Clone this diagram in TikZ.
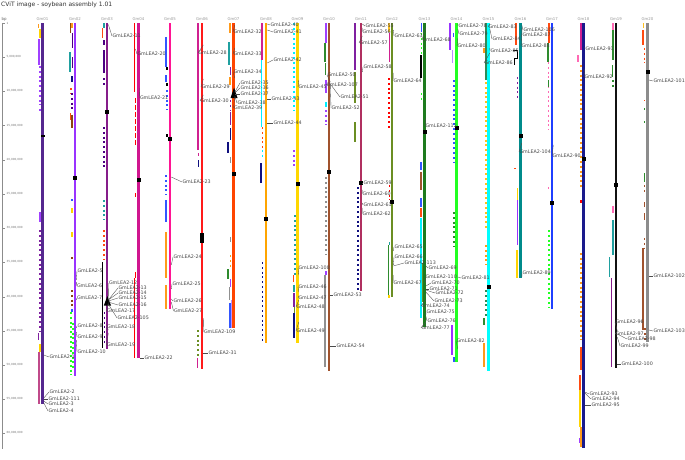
\documentclass[tikz,border=0pt]{standalone}
\usepackage{fontspec}
\setmainfont{DejaVu Sans}
\definecolor{c01}{HTML}{55288F}\definecolor{c02}{HTML}{9933FF}\definecolor{c03}{HTML}{861D8A}
\definecolor{c04}{HTML}{D0158F}\definecolor{c05}{HTML}{FF1493}\definecolor{c06}{HTML}{FF1A1A}
\definecolor{c07}{HTML}{FF4500}\definecolor{c08}{HTML}{FFA500}\definecolor{c09}{HTML}{FFD700}
\definecolor{c10}{HTML}{A0522D}\definecolor{c11}{HTML}{B03060}\definecolor{c12}{HTML}{6B8E23}
\definecolor{c13}{HTML}{1E7B1E}\definecolor{c14}{HTML}{22FF22}\definecolor{c15}{HTML}{00FFFF}
\definecolor{c16}{HTML}{008B8B}\definecolor{c17}{HTML}{1F3FFF}\definecolor{c18}{HTML}{1A1A8C}
\definecolor{c19}{HTML}{111111}\definecolor{c20}{HTML}{8C8C8C}
\definecolor{fviol}{HTML}{A040FF}\definecolor{fpurp}{HTML}{8020A0}\definecolor{fora}{HTML}{FF9A1A}
\definecolor{fyel}{HTML}{FFD400}\definecolor{frosy}{HTML}{C04A8A}\definecolor{fbrown}{HTML}{8B4513}
\definecolor{findigo}{HTML}{4B0082}\definecolor{fteal}{HTML}{20A0A0}\definecolor{fnavy}{HTML}{10107F}
\definecolor{fored}{HTML}{FF4A10}\definecolor{fblue}{HTML}{3355FF}\definecolor{fmv}{HTML}{D02090}
\definecolor{folive}{HTML}{6B8E23}\definecolor{fgreen}{HTML}{2E8B2E}\definecolor{flime}{HTML}{22FF22}
\definecolor{fcyan}{HTML}{00F0FF}\definecolor{fgray}{HTML}{909090}\definecolor{flav}{HTML}{B890FF}
\definecolor{fpink}{HTML}{FF69B4}\definecolor{fsienna}{HTML}{A0522D}\definecolor{fgold}{HTML}{FFC020}
\definecolor{fsea}{HTML}{2E8B57}
\newcommand\fs[4]{\fill[#4] (#1-0.85,#2) rectangle (#1+0.85,#3);}
\newcommand\fd[4]{\draw[#4,line width=1.7pt,dash pattern=on 2pt off 2.8pt] (#1,#2) -- (#1,#3);}
\newcommand\cen[2]{\fill[black] (#1-2,#2-2.2) rectangle (#1+2,#2+2.2);}
\newcommand\chrom[4]{% name, x, bottom, colour
  \node[chl] (#1) at (#2,19) {#1};
  \fill[#4] (#2-1.25,23.5) rectangle (#2+1.25,#3);}
\newcommand\glab[5]{%
  \coordinate (p#1) at (#2,#3);
  \node[lab] (l#1) at (#4,#5) {GmLEA2-#1};
  \draw[lead] (p#1) -- (l#1.west);}
\newcommand\tick[3]{\coordinate (t#1) at (2.7,#2);
  \draw[axis] (t#1) -- ++(2.6,0);
  \node[tkl] (tl#1) at (6.5,#2) {#3};}
\tikzset{
  lab/.style={font=\fontsize{4.8}{5}\selectfont,text=black!72,inner sep=0.3pt,anchor=west},
  lead/.style={draw=black!70,line width=0.35pt},
  chl/.style={font=\fontsize{3.9}{4}\selectfont,text=black!40,inner sep=0pt},
  tkl/.style={font=\fontsize{2.8}{3}\selectfont,text=black!55,inner sep=0pt,anchor=west},
  axis/.style={draw=black!45,line width=0.5pt}
}
\begin{document}
\begin{tikzpicture}[x=1pt,y=-1pt]
\useasboundingbox[fill=white] (0,0) rectangle (685,460);
\node[font=\fontsize{6}{7}\selectfont,text=black!80,anchor=west,inner sep=0pt] (title) at (1,4.5) {CViT image - soybean assembly 1.01};
\node[font=\fontsize{4}{4}\selectfont,text=black!60,anchor=west,inner sep=0pt] (bp) at (1.5,19.5) {bp};
\coordinate (atop) at (2.7,23); \coordinate (abot) at (2.7,449);
\draw[axis] (atop) -- (abot);
\tick{a}{23.5}{1}\tick{b}{57}{5,000,000}\tick{c}{91}{10,000,000}\tick{d}{125.5}{15,000,000}
\tick{e}{160}{20,000,000}\tick{f}{194}{25,000,000}\tick{g}{228}{30,000,000}\tick{h}{262}{35,000,000}
\tick{i}{297}{40,000,000}\tick{j}{331}{45,000,000}\tick{k}{365}{50,000,000}\tick{l}{399}{55,000,000}
\tick{m}{433}{60,000,000}
% ---------------- features -----------------
% Gm01
\fs{38.5}{24}{28}{fora}\fs{40}{29}{38}{fyel}\fs{39}{39}{65}{fviol}\fd{40}{66}{105}{fviol}
\fs{40}{109}{111}{fviol}\fs{40}{212}{222}{fviol}\fd{40}{230}{332}{fpurp}\fs{38.5}{333}{340}{fpurp}
\fs{40}{344}{352}{fyel}\fs{39}{352}{404}{frosy}
% Gm02
\fs{70.5}{23.5}{33}{fbrown}\fs{72}{23.5}{28}{fora}\fs{72.5}{33}{48}{findigo}\fs{70}{52}{72}{fteal}
\fs{72.5}{57}{68}{findigo}\fs{72}{76}{82}{fnavy}\fd{71}{88}{93}{fored}\fd{72}{93}{110}{findigo}
\fs{70.5}{113}{120}{fored}\fs{72}{115}{128}{fbrown}\fs{72}{199}{201}{fblue}\fs{72}{208}{213}{fyel}
\fs{72}{232}{237}{fyel}\fs{72}{257}{259}{fbrown}\fd{72}{290}{308}{fbrown}\fs{72}{309}{312}{fblue}
\fd{71}{312}{375}{flime}\fd{73}{323}{370}{flime}
% Gm03
\fs{104}{23.5}{28}{fteal}\fs{102.5}{28}{38}{fored}\fs{104}{40}{45}{findigo}\fs{104}{50}{73}{findigo}
\fd{104}{78}{87}{findigo}\fd{104}{127}{170}{findigo}\fd{104}{200}{220}{fteal}\fd{104}{230}{260}{fored}
\fill[black] (101.6,262) rectangle (102.6,348);\fd{104.5}{312}{345}{findigo}
% Gm04
\fs{134.5}{23.5}{92}{red}\draw[red,line width=1.7pt,dash pattern=on 5pt off 2pt] (135.5,98) -- (135.5,145);
\fs{135.5}{193}{197}{red}\fs{135.5}{272}{278}{red}\fs{134.5}{278}{358}{red}
% Gm05
\fs{166}{37}{67}{fblue}\fs{167}{67}{70}{black}\fs{166}{75}{82}{fblue}\fs{167}{83}{86}{black}
\fd{167}{90}{110}{fblue}\fs{167}{134}{137}{black}\fd{166}{175}{195}{fblue}\fs{166}{200}{222}{fblue}
\fs{166}{232}{278}{fora}\fs{166}{285}{309}{fora}
% Gm06
\fs{198}{23.5}{150}{fmv}\fs{198.5}{153}{156}{fmv}\fs{198.5}{160}{167}{fnavy}
\fd{198}{330}{358}{folive}\fs{197.5}{358}{368}{fmv}
% Gm07
\fs{230}{23.5}{33}{fora}\fs{229}{42}{65}{fteal}\fs{230.5}{67}{75}{fpurp}\fs{230}{77}{85}{fora}
\fd{230.5}{100}{110}{fpurp}\fs{230.5}{112}{125}{fpurp}\fs{230.5}{128}{140}{fnavy}\fs{228}{142}{153}{fnavy}
\fs{230.5}{157}{163}{fgray}\fs{230.5}{237}{242}{fgray}\fd{230.5}{255}{268}{fora}\fs{228}{269}{279}{fgreen}
\fs{230.5}{279}{287}{fviol}\fs{229.5}{287}{300}{fgray}\fs{231.5}{300}{328}{flav}\fs{230}{303}{328}{fblue}
% Gm08
\fs{262}{23.5}{60}{fmv}\fs{261.5}{60}{127}{fcyan}\fd{262.5}{127}{148}{fored}\fd{262.5}{150}{157}{fcyan}
\fs{261}{163}{183}{fnavy}\fd{262.5}{262}{343}{fnavy}
% Gm09
\fd{294}{23.5}{110}{fcyan}\fd{294}{150}{167}{fviol}\fd{295}{215}{275}{fteal}\fs{293.5}{275}{282}{fored}
\fs{294}{285}{292}{fteal}\fs{294}{293}{307}{fpurp}\fs{294.5}{307}{313}{folive}\fs{294}{313}{338}{fnavy}
% Gm10
\fs{326}{23.5}{43}{fviol}\fs{325}{43}{62}{fgreen}\fs{325.5}{63}{75}{fgreen}\fs{326}{80}{93}{fviol}
\fs{326}{102}{107}{fcyan}\fd{326}{110}{125}{fviol}\fd{326}{177}{255}{fgray}\fs{326}{271}{275}{fviol}
\fill[fgray] (324.4,275) rectangle (325.8,367);
% Gm11
\fs{355}{23.5}{70}{fpurp}\fs{355}{72}{103}{folive}\fs{355}{122}{142}{folive}\fd{358}{187}{290}{fnavy}
% Gm12
\fs{389}{23.5}{32}{fgold}\fs{389.5}{33}{62}{fmv}\fd{389}{78}{130}{red}\fd{389.5}{185}{200}{red}
\fs{389.5}{242}{245}{fteal}\fs{388.5}{245}{295}{fgreen}\fs{389}{295}{298}{fyel}
% Gm13
\fs{421.5}{23.5}{32}{fblue}\fd{421.5}{33}{55}{flime}\fs{421}{55}{78}{black}\fd{421.5}{93}{100}{flime}
\fs{421}{162}{170}{fblue}\fs{421}{172}{190}{fsienna}\fs{421}{198}{207}{fblue}\fs{421}{208}{217}{fored}
\fs{421}{218}{318}{fcyan}\fs{423}{263}{302}{folive}
% Gm14
\fs{450}{23.5}{50}{c02}\fs{453.5}{33}{37}{fblue}\fs{452.5}{50}{63}{flav}\fd{454}{80}{163}{fblue}
\fd{454}{212}{247}{fgreen}\fs{452}{325}{355}{c02}\fs{454}{357}{362}{fblue}
% Gm15
\fs{486}{23.5}{80}{fsea}\fs{484}{48}{53}{fora}\fd{486}{82}{230}{fgold}\fd{486}{245}{265}{fora}
\fd{486}{290}{316}{fsea}\fs{484}{318}{325}{fgreen}\fs{484}{343}{367}{fora}
% Gm16
\fs{516}{23.5}{45}{fored}\draw[black,line width=0.8pt] (513,50)--(517,50)--(517,58)--(514,58)--(514,65);
\fd{517.5}{77}{100}{fpurp}\fs{515}{167.5}{169}{fored}\fs{517.5}{188}{200}{fyel}\fs{517.5}{200}{245}{c02}
\fs{517}{250}{278}{fyel}
% Gm17
\fs{549}{23.5}{43}{fored}\fs{548}{43}{62}{fgreen}\fd{548.5}{62}{130}{fpink}\fs{548.5}{80}{87}{fgreen}
\fs{548.5}{187}{189}{fpink}\fd{549}{230}{308}{flime}
% Gm18
\fs{581}{23.5}{50}{fmv}\fs{578}{55}{62}{fpink}\fd{581}{65}{187}{fora}\fs{581}{200}{203}{red}
\fd{581}{253}{340}{fora}\fs{581}{347}{370}{fored}\fs{580}{375}{390}{fored}\fs{580}{390}{427}{fyel}
\fs{581}{427}{447}{fora}\fs{579.5}{438}{443}{fviol}
% Gm19
\fs{613}{23.5}{30}{fpink}\fs{613}{30}{60}{fgreen}\fs{612.5}{65}{77}{fgreen}\fd{613}{80}{88}{fgreen}
\fs{613}{206}{213}{fpink}\fs{613}{220}{255}{fteal}\fs{609.5}{257}{277}{fteal}\fs{611.5}{278}{367}{c03}
% Gm20
\fs{643.5}{23.5}{28}{fgold}\fs{643}{30}{45}{fored}\fd{644.5}{48}{63}{fored}\fs{644.5}{99.5}{101}{fored}
\fs{644.5}{108}{109.5}{fgreen}\fs{644.5}{121}{123}{fgreen}\fs{644.5}{173}{182}{fgreen}
\fd{644.5}{185}{193}{fsienna}\fs{644.5}{202}{207}{fsienna}\fs{644.5}{213}{220}{fsienna}
\fd{644.5}{238}{248}{fsienna}\fill[fsienna] (642.4,248) rectangle (643.6,330);\fd{645}{328}{340}{fsienna}
% ---------------- chromosomes -----------------
\chrom{Gm01}{42.5}{404}{c01}\chrom{Gm02}{75}{376}{c02}\chrom{Gm03}{107}{349}{c03}
\chrom{Gm04}{138.5}{358}{c04}\chrom{Gm05}{170}{309}{c05}\chrom{Gm06}{202}{369}{c06}
\chrom{Gm07}{233.5}{328}{c07}\chrom{Gm08}{266}{343}{c08}\chrom{Gm09}{297.5}{343}{c09}
\chrom{Gm10}{329}{371}{c10}\chrom{Gm11}{361}{291}{c11}\chrom{Gm12}{392}{297}{c12}
\chrom{Gm13}{424.5}{327}{c13}\chrom{Gm14}{456.5}{362}{c14}\chrom{Gm15}{488.5}{371}{c15}
\chrom{Gm16}{520.5}{278}{c16}\chrom{Gm17}{552}{309}{c17}\chrom{Gm18}{583.5}{448}{c18}
\chrom{Gm19}{616}{368}{c19}\chrom{Gm20}{647.5}{342}{c20}
% centromeres
\fill[black] (41,135.4) rectangle (44.5,137);
\cen{75}{178}\cen{107}{112}\cen{138.5}{180}\cen{170}{139}
\fill[black] (200,233) rectangle (204,243);
\cen{233.5}{174}\cen{266}{219}\cen{297.5}{184}\cen{329}{172}\cen{361}{183}\cen{392}{202}
\cen{424.5}{132}\cen{456.5}{128}\cen{488.5}{287}\cen{520.5}{136}\cen{552}{203}\cen{583.5}{159}
\cen{616}{185}\cen{647.5}{72}
% clusters
\fill[black] (103.8,305.5) -- (111,305.5) -- (107.4,296) -- cycle;
\fill[black] (230.5,98) -- (237.5,98) -- (234,87.5) -- cycle;
% ---------------- labels -----------------
\glab{1}{43.8}{355}{49}{357}\glab{2}{43.8}{398}{49}{392}\glab{111}{43.8}{399}{48}{399}
\glab{3}{43.8}{401}{48}{404}\glab{4}{43.8}{403}{48}{411}
\glab{5}{76.3}{280}{77}{271}\glab{6}{76.3}{282}{76.5}{286}\glab{7}{76.3}{300}{76.5}{298}
\glab{8}{76.3}{328}{77}{326}\glab{9}{76.3}{332}{77}{337}\glab{10}{76.3}{340}{77}{352}
\glab{12}{108.3}{298}{108.5}{283}\glab{13}{108.3}{300}{118}{288}\glab{14}{108.3}{300}{118}{293}
\glab{15}{108.3}{301}{118}{298}\glab{16}{108.3}{302}{118}{305}\glab{17}{108.3}{303}{106.5}{311}
\glab{105}{108.3}{304}{117}{318}\glab{18}{108.3}{330}{106.5}{327}\glab{19}{108.3}{333}{106.5}{345}
\glab{11}{108.3}{24.5}{112}{36}
\glab{20}{135.4}{49}{137}{54}\glab{21}{139.8}{88}{139.5}{98}\glab{22}{139.8}{358}{144}{358}
\glab{23}{171.3}{177}{182}{182}\glab{24}{171.3}{265}{173}{257}\glab{25}{171.3}{289}{172}{284}
\glab{26}{171.3}{299}{173}{301}\glab{27}{171.3}{302}{173.5}{311}
\glab{28}{203.3}{45}{198}{53}\glab{29}{203.3}{79}{201}{87}\glab{30}{203.3}{95}{200}{101}
\glab{109}{203.3}{318}{203.5}{332}\glab{31}{203.3}{353}{208}{353}
\glab{32}{234.8}{25}{233}{32}\glab{33}{234.8}{48}{233}{54}\glab{34}{234.8}{78}{233}{72}
\glab{35}{234.8}{92}{240}{83}\glab{36}{234.8}{93}{240}{88}\glab{37}{234.8}{94}{240}{94}
\glab{38}{234.8}{96}{237}{103}\glab{39}{234.8}{97}{233.5}{108}
\glab{40}{267.3}{24}{270}{25}\glab{41}{267.3}{30}{273}{32}\glab{42}{267.3}{63}{273}{60}
\glab{43}{267.3}{99}{271}{99}\glab{44}{267.3}{123}{273}{123}
\glab{45}{298.8}{80}{298}{87}\glab{108}{298.8}{275}{298}{268}\glab{46}{298.8}{292}{298}{287}
\glab{47}{298.8}{296}{298}{298}\glab{48}{298.8}{300}{296}{307}\glab{49}{298.8}{322}{296}{331}
\glab{50}{330.3}{82}{327}{75}\glab{107}{330.3}{83}{326}{85}\glab{51}{330.3}{84}{340}{97}
\glab{52}{330.3}{85}{331}{108}\glab{53}{330.3}{295}{333}{295}\glab{54}{330.3}{346}{336}{346}
\glab{55}{362.3}{24}{365}{26}\glab{56}{362.3}{28}{362}{32}\glab{57}{362.3}{36}{359}{43}
\glab{58}{362.3}{72}{363}{67}\glab{59}{362.3}{183}{363}{183}\glab{60}{362.3}{190}{362}{194}
\glab{61}{362.3}{203}{363}{205}\glab{62}{362.3}{208}{362}{214}
\glab{63}{393.3}{30}{394}{36}\glab{64}{393.3}{73}{393}{81}\glab{65}{393.3}{251}{394}{247}
\glab{66}{393.3}{265}{394}{257}\glab{113}{393.3}{266}{404}{263}\glab{67}{393.3}{275}{393}{283}
\glab{68}{425.8}{28}{422}{40}\glab{112}{425.8}{118}{425}{126}\glab{69}{425.8}{266}{428}{268}
\glab{110}{425.8}{283}{425}{277}\glab{70}{425.8}{286}{431}{283}\glab{71}{425.8}{289}{429}{289}
\glab{72}{425.8}{290}{435}{293}\glab{73}{425.8}{292}{434}{301}\glab{74}{425.8}{300}{421}{306}
\glab{75}{425.8}{315}{426}{312}\glab{76}{425.8}{316}{427}{321}\glab{77}{425.8}{322}{421}{328}
\glab{78}{457.8}{24}{458}{26}\glab{79}{457.8}{29}{459}{34}\glab{80}{457.8}{38}{457}{46}
\glab{81}{457.8}{277}{461}{278}\glab{82}{457.8}{349}{456}{341}
\glab{83}{489.8}{24}{488}{27}\glab{84}{489.8}{29}{492}{39}\glab{85}{489.8}{48}{490}{51}
\glab{86}{489.8}{53}{484}{63}
\glab{106}{521.8}{25}{523}{30}\glab{87}{521.8}{28}{522}{35}\glab{88}{521.8}{33}{521}{46}
\glab{104}{521.8}{143}{519}{152}\glab{89}{521.8}{277}{522}{273}
\glab{90}{553.3}{145}{552}{156}
\glab{91}{584.8}{47}{585}{49}\glab{92}{584.8}{69}{584}{77}\glab{93}{584.8}{392}{589}{394}
\glab{94}{584.8}{393}{591}{399}\glab{95}{584.8}{405}{591}{405}
\glab{96}{617.3}{331}{615}{322}\glab{97}{617.3}{332}{615}{334}\glab{98}{617.3}{334}{627}{339}
\glab{99}{617.3}{337}{620}{346}\glab{100}{617.3}{364}{621}{364}
\glab{101}{648.8}{80}{653}{81}\glab{102}{648.8}{276}{653}{276}\glab{103}{648.8}{330}{653}{331}
\end{tikzpicture}
\end{document}
